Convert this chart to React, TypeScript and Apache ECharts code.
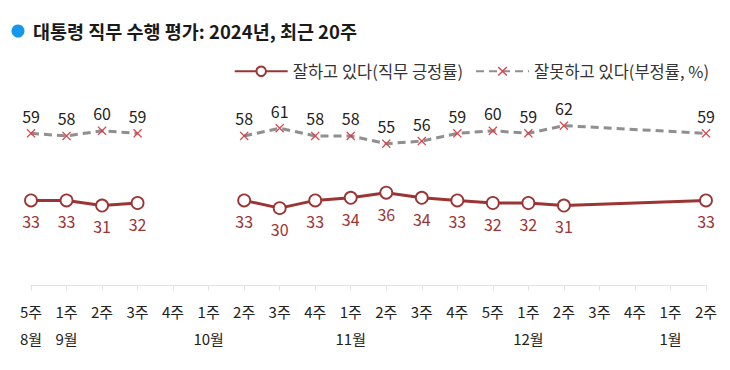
import React, { useEffect, useRef } from "react";
import * as echarts from "echarts";

const weeks = ["5주", "1주", "2주", "3주", "4주", "1주", "2주", "3주", "4주", "1주", "2주", "3주", "4주", "5주", "1주", "2주", "3주", "4주", "1주", "2주"];
const months = ["8월", "9월", "", "", "", "10월", "", "", "", "11월", "", "", "", "", "12월", "", "", "", "1월", ""];
const approval = [33, 33, 31, 32, null, null, 33, 30, 33, 34, 36, 34, 33, 32, 32, 31, null, null, null, 33];
const disapproval = [59, 58, 60, 59, null, null, 58, 61, 58, 58, 55, 56, 59, 60, 59, 62, null, null, null, 59];
const approvalName = "잘하고 있다(직무 긍정률)";
const disapprovalName = "잘못하고 있다(부정률, %)";
const titleText = "대통령 직무 수행 평가: 2024년, 최근 20주";

const FONT = "'Noto Sans CJK KR', 'Noto Sans', sans-serif";
const RED = "#9c3434";
const GREY = "#8f8f8f";
const XRED = "#d9444a";
const XPATH = "path://M1,0 L5,4 L9,0 L10,1 L6,5 L10,9 L9,10 L5,6 L1,10 L0,9 L4,5 L0,1 Z";

export default function App() {
  const ref = useRef<HTMLDivElement>(null);
  useEffect(() => {
    if (!ref.current) return;
    const chart = echarts.init(ref.current, null, { renderer: "svg" });
    const firstBreak = 3;
    const secondStart = 6;
    const seg = (arr: (number | null)[], part: number) =>
      arr.map((v, i) => (part === 0 ? (i <= firstBreak ? v : null) : i >= secondStart ? v : null));

    const approvalSeries = (part: number) => ({
      name: approvalName,
      type: "line",
      data: seg(approval, part),
      connectNulls: true,
      symbol: "circle",
      symbolSize: 12,
      lineStyle: { color: RED, width: 3 },
      itemStyle: { color: "#ffffff", borderColor: RED, borderWidth: 1.8 },
      label: {
        show: true,
        position: "bottom",
        distance: 6,
        color: RED,
        fontSize: 16,
        fontFamily: FONT,
      },
      z: 3,
    });
    const disapprovalSeries = (part: number) => ({
      name: disapprovalName,
      type: "line",
      data: seg(disapproval, part),
      connectNulls: true,
      symbol: XPATH,
      symbolSize: 9,
      lineStyle: { color: GREY, width: 3, type: [8, 5] },
      itemStyle: { color: XRED, borderWidth: 0 },
      label: {
        show: true,
        position: "top",
        distance: 5,
        color: "#222222",
        fontSize: 16,
        fontFamily: FONT,
      },
      z: 2,
    });

    chart.setOption({
      animation: false,
      graphic: [
        { type: "circle", shape: { cx: 18, cy: 31, r: 6.5 }, style: { fill: "#1597ee" } },
        {
          type: "text",
          x: 33,
          y: 31,
          style: {
            text: titleText,
            font: `bold 18.5px ${FONT}`,
            fill: "#1a1a1a",
            verticalAlign: "middle",
            textAlign: "left",
          },
        },
      ],
      legend: {
        top: 58,
        right: 16,
        itemWidth: 53,
        itemHeight: 12,
        itemGap: 12,
        data: [approvalName, disapprovalName],
        textStyle: { fontSize: 16.5, color: "#333333", fontFamily: FONT },
      },
      grid: { left: 31, right: 24, top: 105, bottom: 84.5, containLabel: false },
      xAxis: [
        {
          type: "category",
          data: weeks,
          boundaryGap: false,
          axisLine: { show: true, lineStyle: { color: "#e2e2e2", width: 1 } },
          axisTick: { show: true, length: 5, lineStyle: { color: "#e2e2e2" } },
          axisLabel: { interval: 0, margin: 18, fontSize: 15, color: "#222222", fontFamily: FONT },
        },
        {
          type: "category",
          data: weeks,
          position: "bottom",
          offset: 27,
          boundaryGap: false,
          axisLine: { show: false },
          axisTick: { show: false },
          axisLabel: {
            interval: 0,
            margin: 18,
            fontSize: 15,
            color: "#222222",
            fontFamily: FONT,
            formatter: (_v: string, i: number) => months[i],
          },
        },
      ],
      yAxis: { type: "value", min: 0, max: 70, show: false, splitLine: { show: false } },
      series: [approvalSeries(0), approvalSeries(1), disapprovalSeries(0), disapprovalSeries(1)],
    });
    return () => chart.dispose();
  }, []);
  return <div ref={ref} style={{ width: 730, height: 370, position: "absolute", left: 0, top: 0 }} />;
}
